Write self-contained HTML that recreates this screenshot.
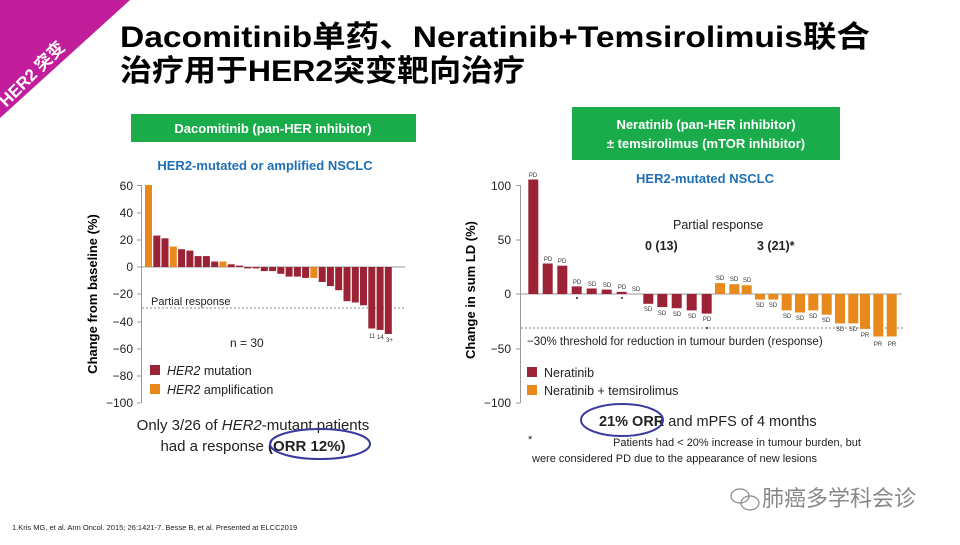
<!DOCTYPE html>
<html><head><meta charset="utf-8"><style>
body{margin:0;background:#fff}
svg text{font-family:"Liberation Sans","Noto Sans CJK SC",sans-serif}
</style></head><body>
<svg width="960" height="540" viewBox="0 0 960 540" xmlns="http://www.w3.org/2000/svg">
<rect width="960" height="540" fill="#fff"/>
<polygon points="0,0 130,0 0,118" fill="#c21d9b"/>
<text x="0" y="0" transform="translate(36,78) rotate(-45)" fill="#fff" font-size="17" font-weight="bold" text-anchor="middle">HER2 突变</text>
<text x="120" y="47" font-size="30" font-weight="bold" fill="#000" textLength="750" lengthAdjust="spacingAndGlyphs">Dacomitinib单药、Neratinib+Temsirolimuis联合</text>
<text x="120" y="81" font-size="30" font-weight="bold" fill="#000" textLength="405" lengthAdjust="spacingAndGlyphs">治疗用于HER2突变靶向治疗</text>

<!-- left -->
<rect x="131" y="114" width="285" height="28" fill="#1aab4b"/>
<text x="273" y="133" font-size="13" font-weight="bold" fill="#fff" text-anchor="middle">Dacomitinib (pan-HER inhibitor)</text>
<text x="265" y="170" font-size="13" font-weight="bold" fill="#1f6fb5" text-anchor="middle">HER2-mutated or amplified NSCLC</text>
<g stroke="#999" stroke-width="1" fill="none">
<line x1="141.5" y1="185" x2="141.5" y2="403"/>
<line x1="141" y1="267" x2="405" y2="267"/>
<line x1="137" y1="185.5" x2="141" y2="185.5"/><line x1="137" y1="213" x2="141" y2="213"/><line x1="137" y1="240" x2="141" y2="240"/><line x1="137" y1="267" x2="141" y2="267"/><line x1="137" y1="294" x2="141" y2="294"/><line x1="137" y1="322" x2="141" y2="322"/><line x1="137" y1="349" x2="141" y2="349"/><line x1="137" y1="376" x2="141" y2="376"/><line x1="137" y1="403" x2="141" y2="403"/>
</g>
<g font-size="12" fill="#222" text-anchor="end">
<text x="133" y="190">60</text><text x="133" y="217">40</text><text x="133" y="244">20</text><text x="133" y="271">0</text><text x="133" y="298">−20</text><text x="133" y="326">−40</text><text x="133" y="353">−60</text><text x="133" y="380">−80</text><text x="133" y="407">−100</text>
</g>
<text transform="translate(97,294) rotate(-90)" font-size="13" font-weight="bold" text-anchor="middle">Change from baseline (%)</text>
<line x1="142" y1="308" x2="405" y2="308" stroke="#888" stroke-dasharray="2,2"/>
<text x="151" y="305" font-size="11" fill="#222">Partial response</text>
<g fill="#9b2335">
<rect x="145" y="185" width="7" height="82" fill="#e8891c"/>
<rect x="153.3" y="235.6" width="7" height="31.4"/>
<rect x="161.5" y="238.3" width="7" height="28.7"/>
<rect x="169.8" y="246.5" width="7" height="20.5" fill="#e8891c"/>
<rect x="178.1" y="249.2" width="7" height="17.8"/>
<rect x="186.4" y="250.6" width="7" height="16.4"/>
<rect x="194.6" y="256.1" width="7" height="10.9"/>
<rect x="202.9" y="256.1" width="7" height="10.9"/>
<rect x="211.2" y="261.5" width="7" height="5.5"/>
<rect x="219.4" y="261.5" width="7" height="5.5" fill="#e8891c"/>
<rect x="227.7" y="264.3" width="7" height="2.7"/>
<rect x="236" y="265.6" width="7" height="1.4"/>
<rect x="244.2" y="267" width="7" height="1.4"/>
<rect x="252.5" y="267" width="7" height="1.4"/>
<rect x="260.8" y="267" width="7" height="4.1"/>
<rect x="269.1" y="267" width="7" height="4.1"/>
<rect x="277.3" y="267" width="7" height="6.8"/>
<rect x="285.6" y="267" width="7" height="9.6"/>
<rect x="293.9" y="267" width="7" height="9.6"/>
<rect x="302.1" y="267" width="7" height="10.9"/>
<rect x="310.4" y="267" width="7" height="10.9" fill="#e8891c"/>
<rect x="318.7" y="267" width="7" height="15"/>
<rect x="326.9" y="267" width="7" height="19.1"/>
<rect x="335.2" y="267" width="7" height="23.2"/>
<rect x="343.5" y="267" width="7" height="34.2"/>
<rect x="351.8" y="267" width="7" height="35.5"/>
<rect x="360" y="267" width="7" height="38.3"/>
<rect x="368.3" y="267" width="7" height="61.5"/>
<rect x="376.6" y="267" width="7" height="62.9"/>
<rect x="384.8" y="267" width="7" height="67"/>
</g>
<g font-size="6" fill="#333"><text x="369" y="338">11</text><text x="377" y="339">14</text><text x="386" y="342">3+</text></g>
<text x="230" y="347" font-size="12" fill="#222">n = 30</text>
<rect x="150" y="365" width="10" height="10" fill="#9b2335"/>
<rect x="150" y="384" width="10" height="10" fill="#e8891c"/>
<text x="167" y="375" font-size="12.5" fill="#222"><tspan font-style="italic">HER2</tspan> mutation</text>
<text x="167" y="394" font-size="12.5" fill="#222"><tspan font-style="italic">HER2</tspan> amplification</text>
<text x="253" y="430" font-size="15" fill="#222" text-anchor="middle">Only 3/26 of <tspan font-style="italic">HER2</tspan>-mutant patients</text>
<text x="253" y="451" font-size="15" fill="#222" text-anchor="middle">had a response <tspan font-weight="bold">(ORR 12%)</tspan></text>
<ellipse cx="320" cy="444" rx="50" ry="15" fill="none" stroke="#3a3aa0" stroke-width="2"/>

<!-- right -->
<rect x="572" y="107" width="268" height="53" fill="#1aab4b"/>
<text x="706" y="129" font-size="13" font-weight="bold" fill="#fff" text-anchor="middle">Neratinib (pan-HER inhibitor)</text>
<text x="706" y="148" font-size="13" font-weight="bold" fill="#fff" text-anchor="middle">± temsirolimus (mTOR inhibitor)</text>
<text x="705" y="183" font-size="13" font-weight="bold" fill="#1f6fb5" text-anchor="middle">HER2-mutated NSCLC</text>
<g stroke="#999" stroke-width="1" fill="none">
<line x1="520.5" y1="185" x2="520.5" y2="403"/>
<line x1="520" y1="294" x2="902" y2="294"/>
<line x1="516" y1="185.5" x2="520" y2="185.5"/><line x1="516" y1="240" x2="520" y2="240"/><line x1="516" y1="294" x2="520" y2="294"/><line x1="516" y1="349" x2="520" y2="349"/><line x1="516" y1="403" x2="520" y2="403"/>
</g>
<g font-size="12" fill="#222" text-anchor="end">
<text x="511" y="190">100</text><text x="511" y="244">50</text><text x="511" y="298">0</text><text x="511" y="353">−50</text><text x="511" y="407">−100</text>
</g>
<text transform="translate(475,290) rotate(-90)" font-size="13" font-weight="bold" text-anchor="middle">Change in sum LD (%)</text>
<line x1="521" y1="328" x2="903" y2="328" stroke="#888" stroke-dasharray="2,2"/>
<text x="527" y="345" font-size="11.5" fill="#222">−30% threshold for reduction in tumour burden (response)</text>
<text x="673" y="229" font-size="12.5" fill="#222">Partial response</text>
<text x="645" y="250" font-size="12.5" font-weight="bold" fill="#222">0 (13)</text>
<text x="757" y="250" font-size="12.5" font-weight="bold" fill="#222">3 (21)*</text>
<g fill="#9b2335">
<rect x="528.3" y="179.5" width="10" height="114.5"/>
<rect x="542.7" y="263.5" width="10" height="30.5"/>
<rect x="557.3" y="265.7" width="10" height="28.3"/>
<rect x="571.7" y="286.4" width="10" height="7.6"/>
<rect x="586.7" y="288.5" width="10" height="5.5"/>
<rect x="601.7" y="289.6" width="10" height="4.4"/>
<rect x="616.7" y="291.8" width="10" height="2.2"/>
<rect x="643.3" y="294" width="10" height="9.8"/>
<rect x="657.3" y="294" width="10" height="13.1"/>
<rect x="671.7" y="294" width="10" height="14.2"/>
<rect x="686.7" y="294" width="10" height="16.4"/>
<rect x="701.7" y="294" width="10" height="19.6"/>
</g>
<g fill="#e8891c">
<rect x="715" y="283.1" width="10" height="10.9"/>
<rect x="729.3" y="284.2" width="10" height="9.8"/>
<rect x="741.7" y="285.3" width="10" height="8.7"/>
<rect x="755" y="294" width="10" height="5.5"/>
<rect x="768.3" y="294" width="10" height="5.5"/>
<rect x="781.7" y="294" width="10" height="16.4"/>
<rect x="795" y="294" width="10" height="18.5"/>
<rect x="808.3" y="294" width="10" height="16.4"/>
<rect x="821.7" y="294" width="10" height="20.7"/>
<rect x="835" y="294" width="10" height="29.4"/>
<rect x="848.3" y="294" width="10" height="29.4"/>
<rect x="860" y="294" width="10" height="34.9"/>
<rect x="873.3" y="294" width="10" height="42.5"/>
<rect x="886.7" y="294" width="10" height="42.5"/>
</g>
<g font-size="6" fill="#333" text-anchor="middle">
<text x="533" y="177">PD</text><text x="548" y="261">PD</text><text x="562" y="263">PD</text><text x="577" y="284">PD</text><text x="592" y="286">SD</text><text x="607" y="287">SD</text><text x="622" y="289">PD</text><text x="636" y="291">SD</text>
<text x="648" y="311">SD</text><text x="662" y="315">SD</text><text x="677" y="316">SD</text><text x="692" y="318">SD</text><text x="707" y="321">PD</text>
<text x="720" y="280">SD</text><text x="734" y="281">SD</text><text x="747" y="282">SD</text>
<text x="760" y="307">SD</text><text x="773" y="307">SD</text><text x="787" y="318">SD</text><text x="800" y="320">SD</text><text x="813" y="318">SD</text><text x="826" y="322">SD</text><text x="840" y="331">SD</text><text x="853" y="331">SD</text><text x="865" y="337">PR</text><text x="878" y="346">PR</text><text x="892" y="346">PR</text>
</g>
<g fill="#222"><circle cx="577" cy="298" r="1"/><circle cx="622" cy="298" r="1"/><circle cx="707" cy="328" r="1"/></g>
<rect x="527" y="367" width="10" height="10" fill="#9b2335"/>
<rect x="527" y="385" width="10" height="10" fill="#e8891c"/>
<text x="544" y="377" font-size="12.5" fill="#222">Neratinib</text>
<text x="544" y="395" font-size="12.5" fill="#222">Neratinib + temsirolimus</text>
<text x="599" y="426" font-size="14.5" fill="#222"><tspan font-weight="bold">21% ORR</tspan> and mPFS of 4 months</text>
<ellipse cx="622" cy="420" rx="41" ry="16" fill="none" stroke="#3a3aa0" stroke-width="2"/>
<text x="528" y="443" font-size="11" fill="#222">*</text>
<text x="613" y="446" font-size="11" fill="#222">Patients had &lt; 20% increase in tumour burden, but</text>
<text x="532" y="462" font-size="11" fill="#222">were considered PD due to the appearance of new lesions</text>

<g fill="none" stroke="#888" stroke-width="1.2"><ellipse cx="740" cy="496" rx="9" ry="7"/><ellipse cx="750" cy="503" rx="9" ry="7"/></g>
<text x="762" y="506" font-size="22" fill="#888">肺癌多学科会诊</text>
<text x="12" y="530" font-size="7.5" fill="#222">1.Kris MG, et al. Ann Oncol. 2015; 26:1421-7.  Besse B, et al. Presented at ELCC2019</text>
</svg>
</body></html>
